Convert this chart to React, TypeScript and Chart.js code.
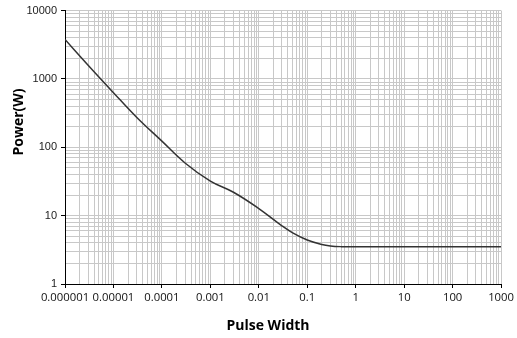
import React, { useEffect, useRef } from "react";
import { Chart, registerables } from "chart.js";

Chart.register(...registerables);

// Curve data
const pulseWidth = [1e-6, 3e-6, 1e-5, 3e-5, 1e-4, 3e-4, 1e-3, 3e-3, 1e-2, 3e-2, 5e-2, 0.1, 0.2, 0.3, 0.5, 1, 10, 100, 1000];
const power = [3780, 1590, 630, 275, 123, 59, 32, 22, 12.7, 7.1, 5.6, 4.4, 3.78, 3.6, 3.52, 3.5, 3.5, 3.5, 3.5];

// Axis ticks
const xTickLabels = ["0.000001", "0.00001", "0.0001", "0.001", "0.01", "0.1", "1", "10", "100", "1000"];
const xMinExp = -6;
const xMaxExp = 3;
const yTickLabels = ["1", "10", "100", "1000", "10000"];
const yMinExp = 0;
const yMaxExp = 4;
const mantissas = [1, 2, 3, 4, 5, 6, 7, 8, 9];

const xTitle = "Pulse Width";
const yTitle = "Power(W)";

function isMajor(v: number) {
  const l = Math.log10(v);
  return Math.abs(l - Math.round(l)) < 1e-9;
}

function tickValues(minExp: number, maxExp: number) {
  const out: { value: number; major: boolean }[] = [];
  for (let e = minExp; e <= maxExp; e++) {
    for (const m of mantissas) {
      if (e === maxExp && m > 1) break;
      const v = Number((m * Math.pow(10, e)).toPrecision(12));
      out.push({ value: v, major: m === 1 });
    }
  }
  return out;
}

const titlePlugin = {
  id: "axisTitles",
  afterDraw(chart: any) {
    const ctx = chart.ctx;
    ctx.save();
    ctx.fillStyle = "#000";
    ctx.font = "bold 14px 'Open Sans'";
    ctx.textAlign = "center";
    ctx.textBaseline = "middle";
    ctx.fillText(xTitle, 268, 326);
    ctx.translate(19, 122);
    ctx.rotate(-Math.PI / 2);
    ctx.fillText(yTitle, 0, 0);
    ctx.restore();
  },
};

export default function App() {
  const ref = useRef<HTMLCanvasElement>(null);

  useEffect(() => {
    if (!ref.current) return;
    const gridColor = "#c8c8c8";
    const chart = new Chart(ref.current, {
      type: "line",
      data: {
        datasets: [
          {
            data: pulseWidth.map((x, i) => ({ x, y: power[i] })),
            borderColor: "#333333",
            borderWidth: 1.5,
            pointRadius: 0,
            fill: false,
            tension: 0.4,
          },
        ],
      },
      options: {
        animation: false,
        responsive: false,
        devicePixelRatio: 1,
        layout: { padding: { top: 10, right: 14, left: 0, bottom: 0 } },
        plugins: {
          legend: { display: false },
          tooltip: { enabled: false },
          title: { display: false },
        },
        scales: {
          x: {
            type: "logarithmic",
            position: "bottom",
            min: 1e-6,
            max: 1000,
            afterBuildTicks: (scale: any) => {
              scale.ticks = tickValues(xMinExp, xMaxExp);
            },
            afterFit: (scale: any) => {
              scale.height = 338 - 284;
            },
            ticks: {
              autoSkip: false,
              maxRotation: 0,
              minRotation: 0,
              padding: 3,
              color: "#111",
              font: { family: "'Open Sans'", size: 11.3 },
              callback: (value: any) => {
                const v = Number(value);
                if (!isMajor(v)) return "";
                return xTickLabels[Math.round(Math.log10(v)) - xMinExp];
              },
            },
            grid: {
              color: gridColor,
              lineWidth: 1,
              tickLength: 4,
              tickColor: (c: any) => (c.tick && isMajor(c.tick.value) ? "#000" : "rgba(0,0,0,0)"),
            },
            border: { color: "#000", width: 1 },
          },
          y: {
            type: "logarithmic",
            min: 1,
            max: 10000,
            afterBuildTicks: (scale: any) => {
              scale.ticks = tickValues(yMinExp, yMaxExp);
            },
            afterFit: (scale: any) => {
              scale.width = 65;
            },
            ticks: {
              autoSkip: false,
              padding: 4,
              color: "#222",
              font: { family: "'Liberation Sans'", size: 11 },
              callback: (value: any) => {
                const v = Number(value);
                if (!isMajor(v)) return "";
                return yTickLabels[Math.round(Math.log10(v)) - yMinExp];
              },
            },
            grid: {
              color: gridColor,
              lineWidth: 1,
              tickLength: 4,
              tickColor: (c: any) => (c.tick && isMajor(c.tick.value) ? "#000" : "rgba(0,0,0,0)"),
            },
            border: { color: "#000", width: 1 },
          },
        },
      },
      plugins: [titlePlugin],
    } as any);
    return () => chart.destroy();
  }, []);

  return (
    <div style={{ position: "absolute", left: 0, top: 0, width: 517, height: 338, background: "#fff" }}>
      <canvas ref={ref} width={517} height={338} style={{ width: 517, height: 338, display: "block" }} />
    </div>
  );
}
